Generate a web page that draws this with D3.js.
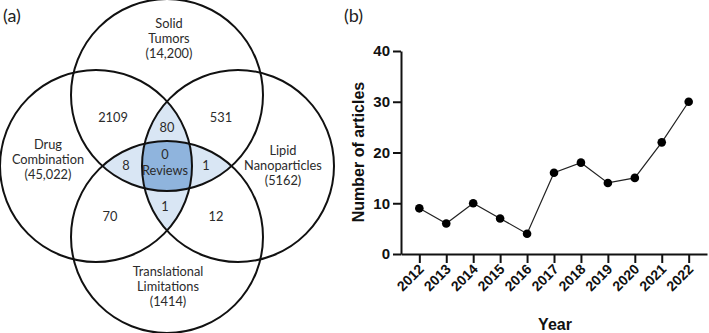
<!DOCTYPE html>
<html>
<head>
<meta charset="utf-8">
<script src="https://cdn.jsdelivr.net/npm/d3@7"></script>
<style>
  body { margin: 0; background: #fff; }
  svg { display: block; }
</style>
</head>
<body>
<div id="chart"></div>
<script>
// ---- panel (a) data ----
var setNames = [
  ['Solid', 'Tumors', '(14,200)'],
  ['Drug', 'Combination', '(45,022)'],
  ['Lipid', 'Nanoparticles', '(5162)'],
  ['Translational', 'Limitations', '(1414)']
];
var regionCounts = ['2109', '531', '80', '8', '0', '1', '1', '70', '12'];
var centerLabel = 'Reviews';

// ---- panel (b) data ----
var years = ['2012', '2013', '2014', '2015', '2016', '2017', '2018', '2019', '2020', '2021', '2022'];
var articles = [9, 6, 10, 7, 4, 16, 18, 14, 15, 22, 30];
var yTicks = [0, 10, 20, 30, 40];

var width = 709, height = 333;

var svg = d3.select('#chart')
  .append('svg')
  .attr('width', width)
  .attr('height', height);

// ============== Venn ==============
var R = 96;
var circles = [
  {cx: 167, cy: 95},   // top - solid tumors
  {cx: 96,  cy: 166},  // left - drug combination
  {cx: 238, cy: 166},  // right - lipid nanoparticles
  {cx: 167, cy: 237}   // bottom - translational limitations
];
var setPos = [[169, 24], [48, 145], [283, 151], [168, 272]];
var regionPos = [[113, 118], [221, 118], [167, 128], [126, 166], [165, 155], [206, 166], [165, 207], [110, 217], [216, 217]];

var defs = svg.append('defs');
circles.forEach(function(c, i){
  defs.append('clipPath').attr('id', 'clip' + i)
    .append('circle').attr('cx', c.cx).attr('cy', c.cy).attr('r', R);
});

var venn = svg.append('g');
var light = '#d9e6f4', dark = '#8fb4dd';

// left ∩ right lens
venn.append('g').attr('clip-path', 'url(#clip1)')
  .append('circle').attr('cx', circles[2].cx).attr('cy', circles[2].cy).attr('r', R)
  .attr('fill', light);
// top ∩ bottom lens
venn.append('g').attr('clip-path', 'url(#clip0)')
  .append('circle').attr('cx', circles[3].cx).attr('cy', circles[3].cy).attr('r', R)
  .attr('fill', light);
// all four
venn.append('g').attr('clip-path', 'url(#clip1)')
  .append('g').attr('clip-path', 'url(#clip2)')
  .append('g').attr('clip-path', 'url(#clip0)')
  .append('circle').attr('cx', circles[3].cx).attr('cy', circles[3].cy).attr('r', R)
  .attr('fill', dark);

venn.selectAll('.ring')
  .data(circles)
  .enter()
  .append('circle')
  .attr('class', 'ring')
  .attr('cx', function(d){ return d.cx; })
  .attr('cy', function(d){ return d.cy; })
  .attr('r', R)
  .attr('fill', 'none')
  .attr('stroke', '#111')
  .attr('stroke-width', 2);

var vennFont = 'Lato, "Open Sans", sans-serif';
var vennSize = 12.8;

setNames.forEach(function(lines, i){
  venn.append('text')
    .attr('x', setPos[i][0])
    .attr('y', setPos[i][1])
    .attr('text-anchor', 'middle')
    .attr('font-family', vennFont)
    .attr('font-size', vennSize)
    .attr('fill', '#2b2b2b')
    .selectAll('tspan')
    .data(lines)
    .enter()
    .append('tspan')
    .attr('x', setPos[i][0])
    .attr('y', function(d, j){ return setPos[i][1] + 4 + j * 15; })
    .text(function(d){ return d; });
});

venn.selectAll('.count')
  .data(regionCounts)
  .enter()
  .append('text')
  .attr('class', 'count')
  .attr('x', function(d, i){ return regionPos[i][0]; })
  .attr('y', function(d, i){ return regionPos[i][1] + 4; })
  .attr('text-anchor', 'middle')
  .attr('font-family', vennFont)
  .attr('font-size', vennSize)
  .attr('fill', '#2b2b2b')
  .text(function(d){ return d; });

venn.append('text')
  .attr('x', regionPos[4][0])
  .attr('y', regionPos[4][1] + 20)
  .attr('text-anchor', 'middle')
  .attr('font-family', vennFont)
  .attr('font-size', vennSize)
  .attr('fill', '#2b2b2b')
  .text(centerLabel);

svg.append('text')
  .attr('x', 3).attr('y', 22)
  .attr('font-family', vennFont)
  .attr('font-size', 18)
  .attr('fill', '#222')
  .text('(a)');

// ============== Line chart ==============
var boldFont = '"Liberation Sans", Arial, sans-serif';

var x = d3.scalePoint()
  .domain(years)
  .range([401, 707])
  .padding(0.68);

var y = d3.scaleLinear()
  .domain([0, 40])
  .range([254, 51]);

svg.append('text')
  .attr('x', 344).attr('y', 22)
  .attr('font-family', vennFont)
  .attr('font-size', 18)
  .attr('fill', '#222')
  .text('(b)');

var xAxis = svg.append('g')
  .attr('transform', 'translate(0,' + y(0) + ')')
  .call(d3.axisBottom(x).tickSize(9).tickSizeOuter(0));
xAxis.select('.domain').attr('stroke-width', 2).attr('stroke', '#111');
xAxis.selectAll('.tick line').attr('stroke-width', 2).attr('stroke', '#111');
xAxis.selectAll('.tick text')
  .attr('font-family', boldFont)
  .attr('font-size', 14)
  .attr('font-weight', 'bold')
  .attr('fill', '#111')
  .attr('text-anchor', 'end')
  .attr('dy', null)
  .attr('y', null)
  .attr('transform', 'translate(5,16) rotate(-45)');

var yAxis = svg.append('g')
  .attr('transform', 'translate(' + 401 + ',0)')
  .call(d3.axisLeft(y).tickValues(yTicks).tickSize(8).tickSizeOuter(0).tickPadding(3));
yAxis.select('.domain').attr('stroke-width', 2).attr('stroke', '#111');
yAxis.selectAll('.tick line').attr('stroke-width', 2).attr('stroke', '#111');
yAxis.selectAll('.tick text')
  .attr('font-family', boldFont)
  .attr('font-size', 15)
  .attr('font-weight', 'bold')
  .attr('fill', '#111');

var line = d3.line()
  .x(function(d, i){ return x(years[i]); })
  .y(function(d){ return y(d); });

svg.append('path')
  .datum(articles)
  .attr('d', line)
  .attr('fill', 'none')
  .attr('stroke', '#222')
  .attr('stroke-width', 1.2);

svg.selectAll('.dot')
  .data(articles)
  .enter()
  .append('circle')
  .attr('class', 'dot')
  .attr('cx', function(d, i){ return x(years[i]); })
  .attr('cy', function(d){ return y(d); })
  .attr('r', 4.3)
  .attr('fill', '#000');

svg.append('text')
  .attr('transform', 'translate(364,152) rotate(-90)')
  .attr('text-anchor', 'middle')
  .attr('font-family', boldFont)
  .attr('font-size', 16)
  .attr('font-weight', 'bold')
  .attr('fill', '#111')
  .text('Number of articles');

svg.append('text')
  .attr('x', 555).attr('y', 330)
  .attr('text-anchor', 'middle')
  .attr('font-family', boldFont)
  .attr('font-size', 16)
  .attr('font-weight', 'bold')
  .attr('fill', '#111')
  .text('Year');
</script>
</body>
</html>
